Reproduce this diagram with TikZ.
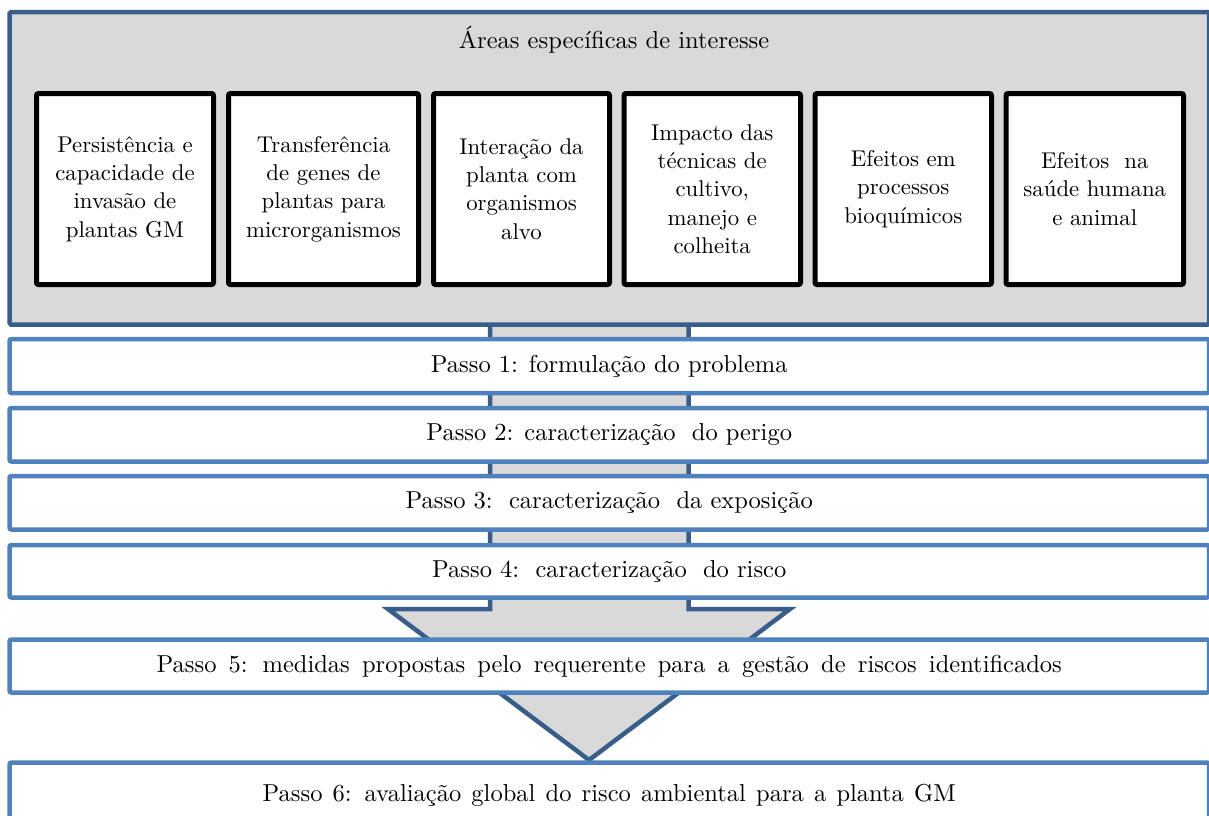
\documentclass[tikz,border=0pt]{standalone}
\usepackage{fontspec}
\setmainfont{lmroman10-regular.otf}[BoldFont=lmroman10-bold.otf,ItalicFont=lmroman10-italic.otf]
\definecolor{panelgray}{HTML}{D9D9D9}
\definecolor{darkblue}{HTML}{385D8A}
\definecolor{stepblue}{HTML}{4F81BD}
\tikzset{
  graybox/.style={draw=darkblue, fill=panelgray, line width=4.5pt, rounded corners=1.5pt, inner sep=0pt},
  areabox/.style={draw=black, fill=white, line width=5pt, rounded corners=2pt, inner sep=0pt,
    minimum height=191pt, align=center, font=\fontsize{22.8}{28.3}\selectfont},
  stepbox/.style={draw=stepblue, fill=white, line width=4.5pt, rounded corners=2pt, inner sep=0pt,
    minimum width=1199.5pt, font=\fontsize{24.5}{30}\selectfont},
  bigarrow/.style={draw=darkblue, fill=panelgray, line width=4.5pt, line join=miter},
  titletext/.style={inner sep=0pt, font=\fontsize{24.5}{30}\selectfont}
}
\begin{document}
\begin{tikzpicture}[x=1pt,y=-1pt]
\useasboundingbox (0,0) rectangle (1209,815);
\clip (0,0) rectangle (1209,815);
\fill[white] (0,0) rectangle (1209,815);
% big arrow behind everything
\draw[bigarrow] (490,300) -- (490,609) -- (388,609) -- (589,760) -- (790,609) -- (688.5,609) -- (688.5,300) -- cycle;
% panel
\node[graybox, minimum width=1199.5pt, minimum height=312.5pt] (areas) at (609.25,168.25) {};
\node[titletext] (title) at (614,40) {Áreas específicas de interesse};
% area boxes
\node[areabox, minimum width=177pt] (a1) at (125,189) {Persistência e\\capacidade de\\invasão de\\plantas GM};
\node[areabox, minimum width=190pt] (a2) at (323.5,189) {Transferência\\de genes de\\plantas para\\microrganismos};
\node[areabox, minimum width=176pt] (a3) at (521.5,189) {Interação da\\planta com\\organismos\\alvo};
\node[areabox, minimum width=176.5pt] (a4) at (712.25,189) {Impacto das\\técnicas de\\cultivo,\\manejo e\\colheita};
\node[areabox, minimum width=176.5pt] (a5) at (903.25,189) {Efeitos em\\processos\\bioquímicos};
\node[areabox, minimum width=177.5pt] (a6) at (1094.75,189) {Efeitos\ \ na\\saúde humana\\e animal};
% steps
\node[stepbox, minimum height=54pt] (s1) at (609.25,366) {Passo 1: formulação do problema};
\node[stepbox, minimum height=53.5pt] (s2) at (609.25,434.75) {Passo 2: caracterização\ \ do perigo};
\node[stepbox, minimum height=53.5pt] (s3) at (609.25,502.75) {Passo 3:\ \ caracterização\ \ da exposição};
\node[stepbox, minimum height=52.5pt] (s4) at (609.25,571.25) {Passo 4:\ \ caracterização\ \ do risco};
\node[stepbox, minimum height=53pt] (s5) at (609.25,666) {\spaceskip=12.2pt Passo 5: medidas propostas pelo requerente para a gestão de riscos identificados};
\node[stepbox, minimum height=65pt] (s6) at (609.25,795) {\spaceskip=10.2pt Passo 6: avaliação global do risco ambiental para a planta GM};
\end{tikzpicture}
\end{document}
